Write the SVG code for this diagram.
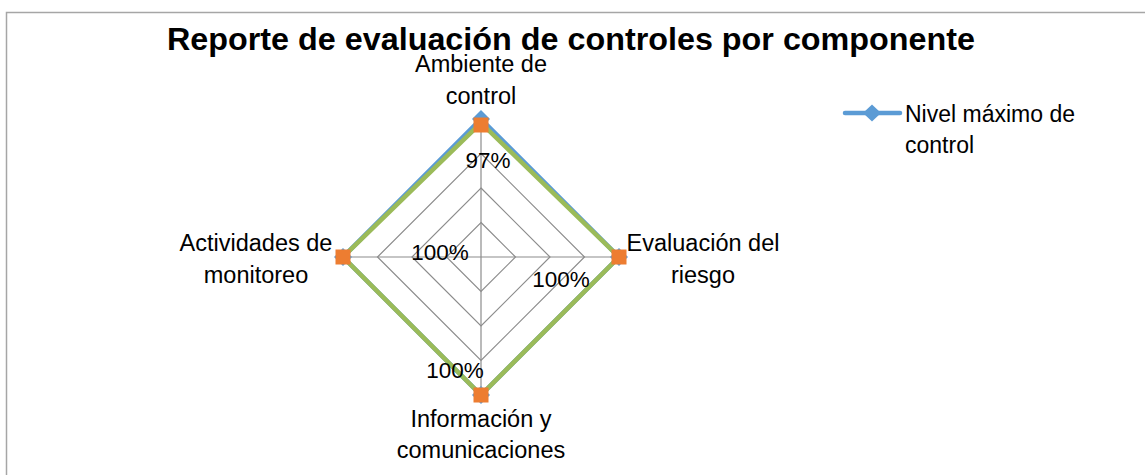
<svg xmlns="http://www.w3.org/2000/svg" width="1145" height="475" viewBox="0 0 1145 475">
<style>
.t{font-family:"Liberation Sans",Arial,sans-serif;fill:#000}
.lbl{font-size:23.5px;text-anchor:middle}
.pct{font-size:22.5px;text-anchor:middle}
.grid{fill:none;stroke:#8C8C8C;stroke-width:1.2}
.axis{stroke:#8C8C8C;stroke-width:1.2}
.sq{fill:#ED7D31}
</style>
<defs>
<marker id="dia" viewBox="-10 -10 20 20" markerWidth="20" markerHeight="20" refX="0" refY="0" markerUnits="userSpaceOnUse">
<path d="M0,-9 L9,0 L0,9 L-9,0 Z" fill="#5B9BD5"/>
</marker>
</defs>
<rect width="1145" height="475" fill="#fff"/>
<rect x="6.5" y="12.5" width="1150" height="480" fill="none" stroke="#A6A6A6" stroke-width="1.5"/>
<text class="t" x="571" y="50" font-size="31" font-weight="bold" text-anchor="middle" textLength="808" lengthAdjust="spacingAndGlyphs">Reporte de evaluación de controles por componente</text>
<g id="grid">
<polygon class="grid" points="481,222.5 515.5,257 481,291.5 446.5,257"/>
<polygon class="grid" points="481,188 550,257 481,326 412,257"/>
<polygon class="grid" points="481,153.5 584.5,257 481,360.5 377.5,257"/>
<line class="axis" x1="481" y1="257" x2="481" y2="119"/>
<line class="axis" x1="481" y1="257" x2="619" y2="257"/>
<line class="axis" x1="481" y1="257" x2="481" y2="395"/>
<line class="axis" x1="481" y1="257" x2="343" y2="257"/>
</g>
<g id="connectors">
<polygon id="series-blue" points="481,119 619,257 481,395 343,257" fill="none" stroke="#5B9BD5" stroke-width="4.5"/>
<polygon id="series-green" points="481,123 619,257 481,395 343,257" fill="none" stroke="#9BBB59" stroke-width="4.5"/>
</g>
<g id="markers-blue">
<path d="M481,119 L481,119" marker-start="url(#dia)"/>
<path d="M619,257 L619,257" marker-start="url(#dia)"/>
<path d="M481,395 L481,395" marker-start="url(#dia)"/>
<path d="M343,257 L343,257" marker-start="url(#dia)"/>
</g>
<g id="markers-orange">
<rect class="sq" x="473.5" y="117.5" width="15" height="15"/>
<rect class="sq" x="611.5" y="249.5" width="15" height="15"/>
<rect class="sq" x="473.5" y="387.5" width="15" height="15"/>
<rect class="sq" x="335.5" y="249.5" width="15" height="15"/>
</g>
<g id="node-ambiente">
<text class="t lbl" x="481" y="72">Ambiente de</text>
<text class="t lbl" x="481" y="104">control</text>
</g>
<g id="node-evaluacion">
<text class="t lbl" x="703" y="251">Evaluación del</text>
<text class="t lbl" x="703" y="283">riesgo</text>
</g>
<g id="node-informacion">
<text class="t lbl" x="481" y="427">Información y</text>
<text class="t lbl" x="481" y="458">comunicaciones</text>
</g>
<g id="node-actividades">
<text class="t lbl" x="256" y="251">Actividades de</text>
<text class="t lbl" x="256" y="283">monitoreo</text>
</g>
<g id="values">
<text class="t pct" x="488" y="168">97%</text>
<text class="t pct" x="440" y="260">100%</text>
<text class="t pct" x="561" y="287">100%</text>
<text class="t pct" x="455" y="378">100%</text>
</g>
<g id="legend">
<line x1="845" y1="113" x2="900" y2="113" stroke="#5B9BD5" stroke-width="4.5" stroke-linecap="round"/>
<path d="M872,104.5 L881,113 L872,121.5 L863,113 Z" fill="#5B9BD5"/>
<text class="t" x="905" y="122" font-size="23">Nivel máximo de</text>
<text class="t" x="905" y="153" font-size="23">control</text>
</g>
</svg>
